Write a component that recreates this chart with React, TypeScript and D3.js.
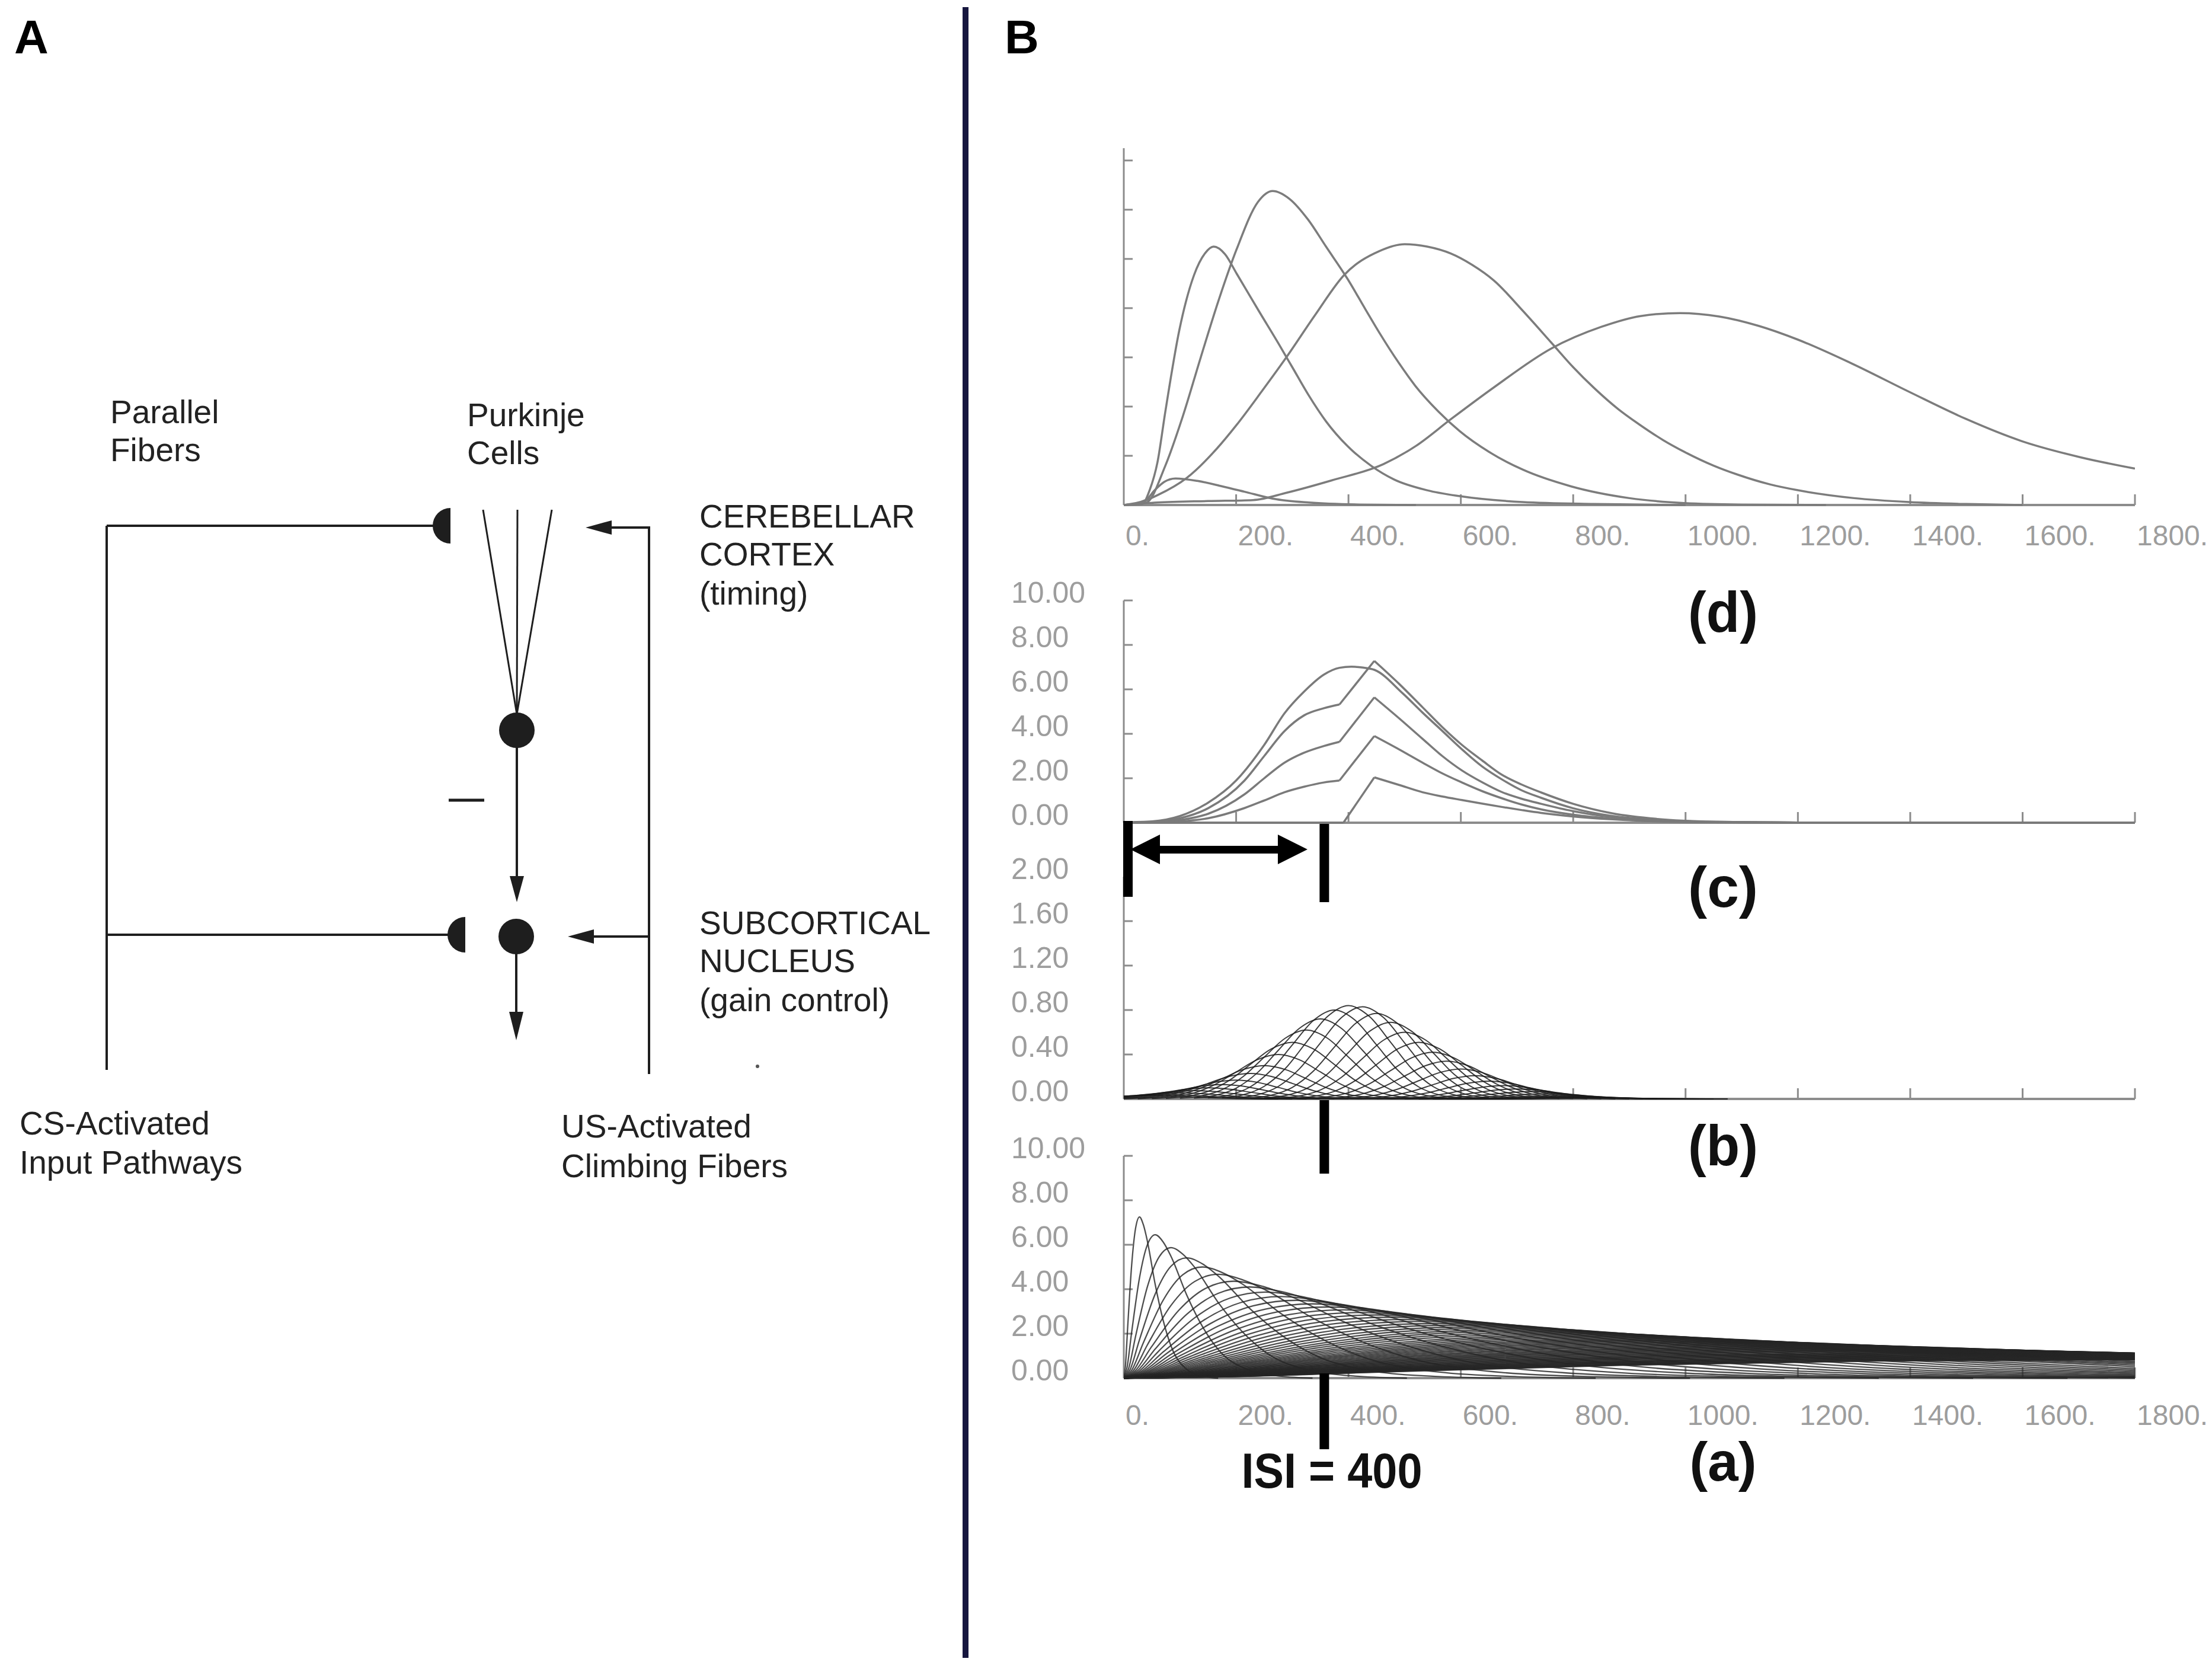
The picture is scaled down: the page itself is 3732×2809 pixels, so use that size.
import React from 'react';
import * as d3 from 'd3';

const WIDTH = 3732;
const HEIGHT = 2809;

// shared time axis (ms)
const xTicks = [0, 200, 400, 600, 800, 1000, 1200, 1400, 1600, 1800];
const xTickLabels = ['0.', '200.', '400.', '600.', '800.', '1000.', '1200.', '1400.', '1600.', '1800.'];

// ---- panel (d): five timing curves ----
const dYTicks = [1, 2, 3, 4, 5, 6, 7];
const dCurveA: [number, number][] = [[0, 0], [39, 0.1], [55, 0.3], [72, 0.47], [92, 0.54], [131, 0.49], [175, 0.38], [215, 0.27], [265, 0.13], [330, 0.05], [420, 0.01], [520, 0]];
const dCurveB: [number, number][] = [[0, 0], [33, 0.02], [46, 0.3], [60, 0.87], [74, 1.9], [99, 3.56], [125, 4.67], [145, 5.12], [160, 5.25], [180, 5.1], [201, 4.7], [240, 3.95], [277, 3.25], [300, 2.8], [328, 2.25], [360, 1.7], [398, 1.2], [440, 0.8], [481, 0.52], [540, 0.3], [598, 0.18], [710, 0.06], [837, 0.02], [1000, 0]];
const dCurveC: [number, number][] = [[0, 0], [40, 0.05], [74, 0.8], [105, 1.8], [137, 3.0], [170, 4.2], [201, 5.2], [239, 6.16], [265, 6.38], [295, 6.22], [328, 5.8], [360, 5.25], [398, 4.6], [430, 3.98], [455, 3.5], [490, 2.88], [519, 2.42], [560, 1.9], [598, 1.5], [650, 1.08], [710, 0.72], [796, 0.38], [900, 0.14], [998, 0.04], [1100, 0.01], [1250, 0]];
const dCurveD: [number, number][] = [[0, 0], [23, 0.03], [60, 0.2], [112, 0.55], [166, 1.15], [201, 1.63], [245, 2.3], [290, 3.01], [340, 3.85], [392, 4.67], [455, 5.16], [500, 5.3], [540, 5.25], [582, 5.11], [620, 4.88], [659, 4.56], [710, 3.95], [761, 3.3], [800, 2.8], [837, 2.38], [880, 1.95], [916, 1.65], [960, 1.32], [998, 1.08], [1050, 0.8], [1092, 0.62], [1150, 0.42], [1200, 0.3], [1300, 0.14], [1398, 0.06], [1500, 0.02], [1600, 0]];
const dCurveE: [number, number][] = [[0, 0], [60, 0.05], [150, 0.08], [230, 0.1], [290, 0.25], [370, 0.5], [462, 0.83], [520, 1.2], [583, 1.75], [660, 2.4], [761, 3.18], [850, 3.62], [920, 3.84], [990, 3.9], [1060, 3.83], [1130, 3.64], [1200, 3.36], [1295, 2.88], [1398, 2.3], [1499, 1.75], [1598, 1.3], [1703, 0.97], [1800, 0.74]];

// ---- panel (c): learned output over trials ----
const cYTicks = [0, 2, 4, 6, 8, 10];
const cYLabels = ['0.00', '2.00', '4.00', '6.00', '8.00', '10.00'];
const cCurve1: [number, number][] = [[0, 0.02], [50, 0.06], [100, 0.3], [150, 0.9], [200, 1.9], [250, 3.5], [286, 4.92], [321, 5.9], [356, 6.66], [384, 6.97], [405, 7.02], [426, 6.98], [446, 6.88], [497, 5.81], [532, 4.95], [567, 4.13], [602, 3.3], [638, 2.53], [673, 1.95], [708, 1.46], [743, 1.12], [800, 0.65], [870, 0.3], [950, 0.12], [1050, 0.04], [1200, 0.01], [1800, 0]];
const cCurve2: [number, number][] = [[0, 0.01], [50, 0.04], [100, 0.2], [150, 0.65], [215, 1.9], [250, 3.0], [286, 4.12], [321, 4.83], [356, 5.15], [384, 5.32], [446, 7.28], [490, 6.25], [532, 5.19], [567, 4.3], [602, 3.5], [638, 2.8], [673, 2.16], [708, 1.72], [743, 1.36], [800, 0.85], [870, 0.42], [950, 0.17], [1050, 0.05], [1200, 0.01], [1800, 0]];
const cCurve3: [number, number][] = [[0, 0], [50, 0.03], [100, 0.12], [150, 0.4], [215, 1.28], [250, 2.0], [286, 2.7], [321, 3.15], [356, 3.45], [384, 3.64], [446, 5.64], [490, 4.7], [532, 3.77], [567, 3.0], [602, 2.35], [638, 1.82], [673, 1.38], [708, 1.08], [743, 0.85], [800, 0.52], [870, 0.25], [950, 0.1], [1050, 0.03], [1200, 0.01], [1800, 0]];
const cCurve4: [number, number][] = [[0, 0], [50, 0.02], [100, 0.06], [150, 0.2], [215, 0.66], [250, 1.0], [286, 1.37], [321, 1.62], [356, 1.81], [384, 1.9], [446, 3.9], [490, 3.3], [532, 2.7], [567, 2.22], [602, 1.81], [638, 1.42], [673, 1.1], [708, 0.82], [743, 0.6], [800, 0.36], [870, 0.18], [950, 0.07], [1050, 0.02], [1200, 0], [1800, 0]];
const cCurve5: [number, number][] = [[0, 0], [391, 0], [446, 2.04], [490, 1.7], [532, 1.37], [567, 1.18], [602, 1.02], [638, 0.86], [673, 0.71], [708, 0.57], [743, 0.44], [800, 0.28], [870, 0.15], [950, 0.06], [1050, 0.02], [1200, 0], [1800, 0]];
const cCurves = [cCurve1, cCurve2, cCurve3, cCurve4, cCurve5];
// kink and peak times where the curves have corners
const cBreaks: number[][] = [[], [384, 446], [384, 446], [384, 446], [391, 446]];

// ---- panel (b): gated spectral activities ----
const bYTicks = [0, 0.4, 0.8, 1.2, 1.6, 2.0];
const bYLabels = ['0.00', '0.40', '0.80', '1.20', '1.60', '2.00'];
const bCenters = [50, 75, 100, 125, 150, 175, 200, 225, 250, 275, 300, 325, 350, 375, 400, 425, 450, 475, 500, 525, 550, 575, 600, 625, 650, 675, 700, 725, 750, 775, 800, 825, 850];
const bAmps = [0.03, 0.04, 0.055, 0.075, 0.1, 0.13, 0.17, 0.23, 0.3, 0.4, 0.51, 0.62, 0.72, 0.8, 0.84, 0.83, 0.77, 0.69, 0.6, 0.51, 0.42, 0.34, 0.27, 0.21, 0.16, 0.12, 0.09, 0.065, 0.045, 0.03, 0.02, 0.012, 0.007];
const bWidth = 75;
const bProfileOffset = [-3, -2.5, -2, -1.5, -1, -0.5, 0, 0.5, 1, 1.5, 2, 2.5, 3];
const bProfileValue = [0.011, 0.044, 0.135, 0.325, 0.607, 0.882, 1, 0.882, 0.607, 0.325, 0.135, 0.044, 0.011];

// ---- panel (a): spectral activities ----
const aYTicks = [0, 2, 4, 6, 8, 10];
const aYLabels = ['0.00', '2.00', '4.00', '6.00', '8.00', '10.00'];
const aPeakTimes = [28, 56, 84, 112, 140, 168, 196, 224, 252, 280, 308, 336, 364, 392, 420, 448, 476, 504, 532, 560, 588, 616, 644, 672, 700, 728, 756, 784, 812, 840, 868, 896, 924, 952, 980, 1008, 1036, 1064, 1092, 1120, 1148, 1176, 1204, 1232, 1260, 1288, 1316, 1344, 1372, 1400, 1428, 1456, 1484, 1512, 1540, 1568, 1596, 1624, 1652, 1680, 1708, 1736, 1764, 1792];
const aPeakHeights = [7.25, 6.45, 5.87, 5.41, 5.0, 4.67, 4.36, 4.1, 3.87, 3.67, 3.5, 3.34, 3.2, 3.07, 2.95, 2.84, 2.74, 2.64, 2.55, 2.46, 2.38, 2.3, 2.23, 2.16, 2.1, 2.04, 1.98, 1.92, 1.87, 1.82, 1.77, 1.72, 1.68, 1.64, 1.6, 1.56, 1.52, 1.48, 1.45, 1.41, 1.38, 1.35, 1.32, 1.29, 1.26, 1.23, 1.2, 1.17, 1.14, 1.12, 1.09, 1.07, 1.04, 1.02, 1.0, 0.98, 0.96, 0.94, 0.92, 0.9, 0.88, 0.86, 0.84, 0.83];
const aProfileRatio = [0, 0.1, 0.25, 0.5, 0.75, 1, 1.25, 1.5, 2, 2.5, 3, 4, 5, 6];
const aProfileValue = [0, 0.07, 0.32, 0.7, 0.93, 1, 0.95, 0.85, 0.58, 0.36, 0.2, 0.055, 0.013, 0];

const ISI_MARK = 357;

const X0 = 1896;
const X1 = 3602;
const x = d3.scaleLinear().domain([0, 1800]).range([X0, X1]);
const yD = d3.scaleLinear().domain([0, 7.25]).range([852, 250]);
const yC = d3.scaleLinear().domain([0, 10]).range([1388, 1013]);
const yB = d3.scaleLinear().domain([0, 2]).range([1854, 1479]);
const yA = d3.scaleLinear().domain([0, 10]).range([2325, 1950]);

const AXIS = '#8c8c8c';
const LABEL = '#9d9d9d';
const SANS = "'Liberation Sans', Arial, Helvetica, sans-serif";

const smooth = (ys: d3.ScaleLinear<number, number>) =>
  d3.line<[number, number]>().x(p => x(p[0])).y(p => ys(p[1])).curve(d3.curveMonotoneX);

function brokenPath(pts: [number, number][], breaks: number[], ys: d3.ScaleLinear<number, number>) {
  if (!breaks.length) return smooth(ys)(pts) || '';
  const cuts = [0, ...breaks.map(b => pts.findIndex(p => p[0] === b)), pts.length - 1];
  let d = '';
  for (let i = 0; i < cuts.length - 1; i++) {
    const seg = pts.slice(cuts[i], cuts[i + 1] + 1);
    const gen = d3.line<[number, number]>().x(p => x(p[0])).y(p => ys(p[1]))
      .curve(i === 1 ? d3.curveLinear : d3.curveMonotoneX);
    d += gen(seg) || '';
  }
  return d;
}

interface FrameProps {
  ys: d3.ScaleLinear<number, number>;
  yTicks: number[];
  yLabels?: string[];
  xLabelY?: number;
}

function Frame({ ys, yTicks, yLabels, xLabelY }: FrameProps) {
  const [y0, y1] = ys.range();
  return (
    <g>
      <line x1={X0} x2={X0} y1={y0} y2={y1} stroke={AXIS} strokeWidth={3} />
      <line x1={X0} x2={X1} y1={y0} y2={y0} stroke={AXIS} strokeWidth={4} />
      {yTicks.map(t => (
        <line key={'yt' + t} x1={X0} x2={X0 + 15} y1={ys(t)} y2={ys(t)} stroke={AXIS} strokeWidth={3} />
      ))}
      {xTicks.slice(1).map(t => (
        <line key={'xt' + t} x1={x(t)} x2={x(t)} y1={y0} y2={y0 - 18} stroke={AXIS} strokeWidth={3} />
      ))}
      {yLabels && yTicks.map((t, i) => (
        <text key={'yl' + t} x={1706} y={ys(t) + 4} fontSize={50} fill={LABEL} fontFamily={SANS}>{yLabels[i]}</text>
      ))}
      {xLabelY !== undefined && xTicks.map((t, i) => (
        <text key={'xl' + t} x={x(t) + 3} y={xLabelY} fontSize={48} fill={LABEL} fontFamily={SANS}>{xTickLabels[i]}</text>
      ))}
    </g>
  );
}

function PanelLabel({ text, y, size = 96 }: { text: string; y: number; size?: number }) {
  return (
    <text x={2907} y={y} fontSize={size} fontWeight="bold" textAnchor="middle" fontFamily={SANS}
      textLength={size * 1.23} lengthAdjust="spacingAndGlyphs" fill="#111">{text}</text>
  );
}

function CircuitPanel() {
  const ink = '#1e1e1e';
  const sw = 4;
  const txt = { fontSize: 55, fontFamily: SANS, fill: '#222' } as const;
  return (
    <g>
      <text x={24} y={90} fontSize={80} fontWeight="bold" fontFamily={SANS}>A</text>
      {/* CS pathway */}
      <line x1={180} x2={180} y1={887} y2={1805} stroke={ink} strokeWidth={sw} />
      <line x1={180} x2={745} y1={887} y2={887} stroke={ink} strokeWidth={sw} />
      <path d="M760,857 A30,30 0 0,0 760,917 Z" fill={ink} />
      <line x1={180} x2={770} y1={1577} y2={1577} stroke={ink} strokeWidth={sw} />
      <path d="M785,1547 A30,30 0 0,0 785,1607 Z" fill={ink} />
      {/* Purkinje dendrites and cells */}
      <line x1={815} y1={860} x2={872} y2={1205} stroke={ink} strokeWidth={3} />
      <line x1={873} y1={860} x2={872} y2={1205} stroke={ink} strokeWidth={3} />
      <line x1={931} y1={860} x2={872} y2={1205} stroke={ink} strokeWidth={3} />
      <circle cx={872} cy={1232} r={30} fill={ink} />
      <line x1={872} x2={872} y1={1260} y2={1485} stroke={ink} strokeWidth={sw} />
      <polygon points="860,1478 884,1478 872,1522" fill={ink} />
      <line x1={757} x2={817} y1={1350} y2={1350} stroke={ink} strokeWidth={5} />
      <circle cx={871} cy={1580} r={30} fill={ink} />
      <line x1={871} x2={871} y1={1605} y2={1712} stroke={ink} strokeWidth={sw} />
      <polygon points="859,1707 883,1707 871,1755" fill={ink} />
      {/* climbing fibres */}
      <line x1={1095} x2={1095} y1={888} y2={1812} stroke={ink} strokeWidth={sw} />
      <line x1={1097} x2={1020} y1={890} y2={890} stroke={ink} strokeWidth={sw} />
      <polygon points="1032,878 1032,902 988,890" fill={ink} />
      <line x1={1095} x2={990} y1={1580} y2={1580} stroke={ink} strokeWidth={sw} />
      <polygon points="1002,1568 1002,1592 958,1580" fill={ink} />
      <circle cx={1278} cy={1799} r={3} fill="#555" />
      {/* labels */}
      <text {...txt} x={186} y={714}>Parallel</text>
      <text {...txt} x={186} y={778}>Fibers</text>
      <text {...txt} x={788} y={719}>Purkinje</text>
      <text {...txt} x={788} y={783}>Cells</text>
      <text {...txt} x={1180} y={890}>CEREBELLAR</text>
      <text {...txt} x={1180} y={954}>CORTEX</text>
      <text {...txt} x={1180} y={1020}>(timing)</text>
      <text {...txt} x={1180} y={1576}>SUBCORTICAL</text>
      <text {...txt} x={1180} y={1640}>NUCLEUS</text>
      <text {...txt} x={1180} y={1706}>(gain control)</text>
      <text {...txt} x={33} y={1914}>CS-Activated</text>
      <text {...txt} x={33} y={1980}>Input Pathways</text>
      <text {...txt} x={947} y={1919}>US-Activated</text>
      <text {...txt} x={947} y={1986}>Climbing Fibers</text>
    </g>
  );
}

export default function App() {
  const dCurves = [dCurveA, dCurveB, dCurveC, dCurveD, dCurveE];
  const bCurves = bCenters.map((c, i) =>
    bProfileOffset.map((o, j) => [c + o * bWidth, bProfileValue[j] * bAmps[i]] as [number, number]));
  const aCurves = aPeakTimes.map((t, i) =>
    aProfileRatio.map((r, j) => [r * t, aProfileValue[j] * aPeakHeights[i]] as [number, number]));

  const isiX = x(ISI_MARK);
  const leftX = x(0) + 7;

  return (
    <svg width={WIDTH} height={HEIGHT} style={{ position: 'absolute', left: 0, top: 0 }}>
      <rect width={WIDTH} height={HEIGHT} fill="#fff" />
      <defs>
        <clipPath id="plotClip">
          <rect x={X0} y={0} width={X1 - X0} height={HEIGHT} />
        </clipPath>
      </defs>

      <CircuitPanel />

      {/* divider */}
      <line x1={1629} x2={1629} y1={12} y2={2797} stroke="#16163f" strokeWidth={10} />
      <text x={1695} y={90} fontSize={80} fontWeight="bold" fontFamily={SANS}>B</text>

      {/* (d) */}
      <Frame ys={yD} yTicks={dYTicks} xLabelY={920} />
      <g clipPath="url(#plotClip)" fill="none" stroke="#7c7c7c" strokeWidth={3.5}>
        {dCurves.map((c, i) => <path key={i} d={smooth(yD)(c) || ''} />)}
      </g>
      <PanelLabel text="(d)" y={1066} />

      {/* (c) */}
      <Frame ys={yC} yTicks={cYTicks} yLabels={cYLabels} />
      <g clipPath="url(#plotClip)" fill="none" stroke="#7a7a7a" strokeWidth={3.5}>
        {cCurves.map((c, i) => <path key={i} d={brokenPath(c, cBreaks[i], yC)} />)}
      </g>
      <PanelLabel text="(c)" y={1530} />

      {/* (b) */}
      <Frame ys={yB} yTicks={bYTicks} yLabels={bYLabels} />
      <g clipPath="url(#plotClip)" fill="none" stroke="#1a1a1a" strokeWidth={2} strokeOpacity={0.85}>
        {bCurves.map((c, i) => <path key={i} d={smooth(yB)(c) || ''} />)}
      </g>
      <PanelLabel text="(b)" y={1966} />

      {/* (a) */}
      <Frame ys={yA} yTicks={aYTicks} yLabels={aYLabels} xLabelY={2404} />
      <g clipPath="url(#plotClip)" fill="none" stroke="#262626" strokeWidth={2.3} strokeOpacity={0.82}>
        {aCurves.map((c, i) => <path key={i} d={smooth(yA)(c) || ''} />)}
      </g>
      <PanelLabel text="(a)" y={2498} size={92} />

      {/* ISI annotation */}
      <g fill="#000">
        <rect x={leftX - 8} y={1385} width={16} height={128} />
        <rect x={isiX - 8} y={1390} width={16} height={132} />
        <rect x={leftX + 30} y={1427} width={x(327) - leftX - 60} height={13} />
        <polygon points={`${leftX + 4},1433 ${leftX + 54},1408 ${leftX + 54},1458`} />
        <polygon points={`${x(327)},1433 ${x(327) - 50},1408 ${x(327) - 50},1458`} />
        <rect x={isiX - 8} y={1856} width={16} height={124} />
        <rect x={isiX - 8} y={2317} width={16} height={128} />
      </g>
      <text x={2247} y={2510} fontSize={84} fontWeight="bold" textAnchor="middle" fontFamily={SANS}
        textLength={305} lengthAdjust="spacingAndGlyphs" fill="#111">ISI = 400</text>
    </svg>
  );
}
